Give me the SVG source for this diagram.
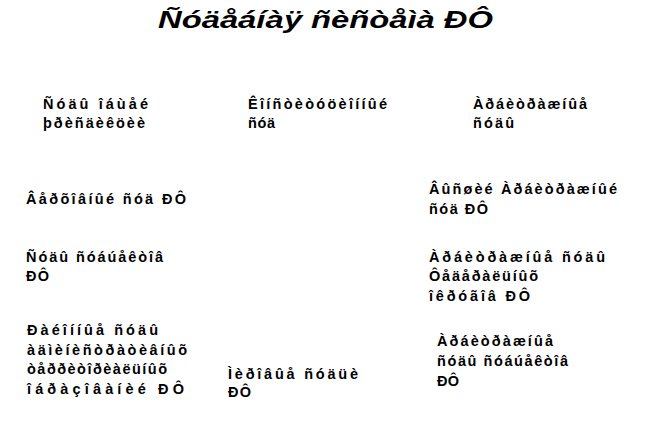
<svg xmlns="http://www.w3.org/2000/svg" width="646" height="428" viewBox="0 0 646 428">
<style>
.t{font-family:"Liberation Sans",Arial,sans-serif;font-size:14.5px;font-weight:bold;fill:#000;}
.title{font-family:"Liberation Sans",Arial,sans-serif;font-size:24px;font-weight:bold;font-style:italic;fill:#000;}
</style>
<rect width="646" height="428" fill="#fff"/>
<g id="title"><text class="title" x="158" y="28" textLength="335" lengthAdjust="spacingAndGlyphs">Ñóäåáíàÿ ñèñòåìà ÐÔ</text></g>
<g id="connectors"></g>
<g id="n1"><text class="t" x="43" y="109" textLength="105" lengthAdjust="spacing">Ñóäû îáùåé</text><text class="t" x="43" y="128" textLength="102" lengthAdjust="spacing">þðèñäèêöèè</text></g>
<g id="n2"><text class="t" x="248" y="109" textLength="139" lengthAdjust="spacing">Êîíñòèòóöèîííûé</text><text class="t" x="248" y="128" textLength="27" lengthAdjust="spacing">ñóä</text></g>
<g id="n3"><text class="t" x="473" y="109" textLength="114" lengthAdjust="spacing">Àðáèòðàæíûå</text><text class="t" x="473" y="128" textLength="41" lengthAdjust="spacing">ñóäû</text></g>
<g id="n4"><text class="t" x="26" y="204" textLength="160" lengthAdjust="spacing">Âåðõîâíûé ñóä ÐÔ</text></g>
<g id="n5"><text class="t" x="429" y="194" textLength="188" lengthAdjust="spacing">Âûñøèé Àðáèòðàæíûé</text><text class="t" x="429" y="214" textLength="59" lengthAdjust="spacing">ñóä ÐÔ</text></g>
<g id="n6"><text class="t" x="26" y="262" textLength="137" lengthAdjust="spacing">Ñóäû ñóáúåêòîâ</text><text class="t" x="26" y="281" textLength="23" lengthAdjust="spacing">ÐÔ</text></g>
<g id="n7"><text class="t" x="429" y="262" textLength="176" lengthAdjust="spacing">Àðáèòðàæíûå   ñóäû</text><text class="t" x="429" y="281" textLength="109" lengthAdjust="spacing">Ôåäåðàëüíûõ</text><text class="t" x="429" y="301" textLength="101" lengthAdjust="spacing">îêðóãîâ ÐÔ</text></g>
<g id="n8"><text class="t" x="27" y="335" textLength="131" lengthAdjust="spacing">Ðàéîííûå ñóäû</text><text class="t" x="27" y="355" textLength="160" lengthAdjust="spacing">àäìèíèñòðàòèâíûõ</text><text class="t" x="27" y="374" textLength="140" lengthAdjust="spacing">òåððèòîðèàëüíûõ</text><text class="t" x="27" y="394" textLength="157" lengthAdjust="spacing">îáðàçîâàíèé ÐÔ</text></g>
<g id="n9"><text class="t" x="228" y="379" textLength="130" lengthAdjust="spacing">Ìèðîâûå ñóäüè</text><text class="t" x="228" y="397" textLength="23" lengthAdjust="spacing">ÐÔ</text></g>
<g id="n10"><text class="t" x="437" y="346" textLength="116" lengthAdjust="spacing">Àðáèòðàæíûå</text><text class="t" x="437" y="366" textLength="131" lengthAdjust="spacing">ñóäû ñóáúåêòîâ</text><text class="t" x="437" y="386" textLength="22" lengthAdjust="spacing">ÐÔ</text></g>
</svg>
